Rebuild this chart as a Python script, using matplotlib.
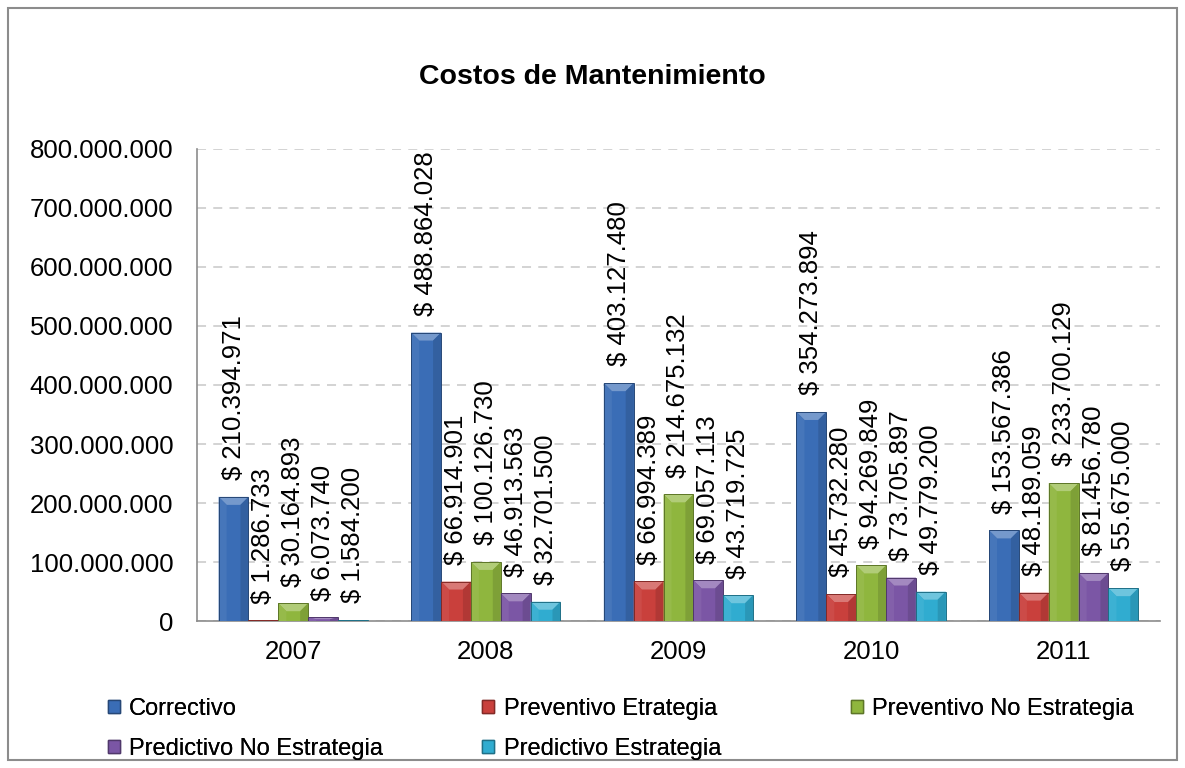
import matplotlib
matplotlib.use("Agg")
import matplotlib.pyplot as plt
import numpy as np
from matplotlib.patches import Polygon, Rectangle
from matplotlib.ticker import FuncFormatter
import matplotlib.colors as mcolors

plt.rcParams['font.family'] = ['Liberation Sans', 'DejaVu Sans']

years = ['2007', '2008', '2009', '2010', '2011']
series = ['Correctivo', 'Preventivo Etrategia', 'Preventivo No Estrategia',
          'Predictivo No Estrategia', 'Predictivo Estrategia']
correctivo = [210394971, 488864028, 403127480, 354273894, 153567386]
prev_etrategia = [1286733, 66914901, 66994389, 45732280, 48189059]
prev_no_estrategia = [30164893, 100126730, 214675132, 94269849, 233700129]
pred_no_estrategia = [6073740, 46913563, 69057113, 73705897, 81456780]
pred_estrategia = [1584200, 32701500, 43719725, 49779200, 55675000]
values = [correctivo, prev_etrategia, prev_no_estrategia, pred_no_estrategia, pred_estrategia]
colors = ['#3a6db6', '#c9403c', '#8fb63e', '#7b56a5', '#30acd0']


def fmt_num(v):
    return f"{int(v):,}".replace(",", ".")


def shade(c, f):
    r, g, b = mcolors.to_rgb(c)
    if f > 0:
        return (r + (1 - r) * f, g + (1 - g) * f, b + (1 - b) * f)
    return (r * (1 + f), g * (1 + f), b * (1 + f))


fig = plt.figure(figsize=(11.85, 7.68), dpi=100)
fig.patches.append(Rectangle((0.007, 0.01), 0.986, 0.98, transform=fig.transFigure,
                             fill=False, edgecolor='#8c8c8c', linewidth=1.5))
ax = fig.add_axes([0.1662, 0.1914, 0.8127, 0.6146])

ymax = 800000000
ax.set_xlim(-0.5, 4.5)
ax.set_ylim(0, ymax)

width = 0.155
x = np.arange(len(years))
# bevel sizes in data units (about 8 px)
axh_px = 0.6146 * 768
axw_px = 0.8127 * 1185
bev_y = 8 * ymax / axh_px
bev_x = 8 * 5 / axw_px

for i, (name, vals, col) in enumerate(zip(series, values, colors)):
    xs = x + (i - 2) * width
    ax.bar(xs, vals, width=width, color=col, edgecolor='none', label=name, zorder=3)
    for xc, v in zip(xs, vals):
        x0, x1 = xc - width / 2, xc + width / 2
        by = min(bev_y, v / 2)
        bx = min(bev_x, width / 2)
        top = [(x0, v), (x1, v), (x1 - bx, v - by), (x0 + bx, v - by)]
        left = [(x0, 0), (x0, v), (x0 + bx, v - by), (x0 + bx, 0)]
        right = [(x1, 0), (x1, v), (x1 - bx, v - by), (x1 - bx, 0)]
        ax.add_patch(Polygon(top, closed=True, facecolor=shade(col, 0.3), edgecolor='none', zorder=4))
        ax.add_patch(Polygon(left, closed=True, facecolor=shade(col, 0.06), edgecolor='none', zorder=4))
        ax.add_patch(Polygon(right, closed=True, facecolor=shade(col, -0.12), edgecolor='none', zorder=4))
        ax.add_patch(Rectangle((x0, 0), width, v, fill=False, edgecolor=shade(col, -0.35),
                               linewidth=0.7, zorder=5))
        ax.annotate(f"$ {fmt_num(v)}", xy=(xc, v), xytext=(0, 12), textcoords='offset points',
                    rotation=90, ha='center', va='bottom', fontsize=18.5, color='black', zorder=6)

ax.set_yticks(np.arange(0, ymax + 1, 100000000))
ax.yaxis.set_major_formatter(FuncFormatter(lambda v, p: fmt_num(v)))
ax.set_xticks(x)
ax.set_xticklabels(years)
ax.tick_params(axis='both', labelsize=18.5, length=0)
ax.tick_params(axis='x', pad=14)
ax.tick_params(axis='y', pad=17)
ax.grid(axis='y', linestyle=(0, (5, 4)), color='#d0d0d0', linewidth=1.3, zorder=0)
for s in ['top', 'right']:
    ax.spines[s].set_visible(False)
ax.spines['left'].set_color('#8c8c8c')
ax.spines['bottom'].set_color('#8c8c8c')
ax.spines['left'].set_linewidth(1.2)
ax.spines['bottom'].set_linewidth(1.2)

fig.text(0.5, 0.9, 'Costos de Mantenimiento', ha='center', va='center',
         fontsize=20.5, fontweight='bold')

# legend: three columns laid out like the reference (row-major order)
handles = [Rectangle((0, 0), 1, 1, facecolor=c, edgecolor=shade(c, -0.35)) for c in colors]
col_x = [0.091, 0.407, 0.718]
for c in range(3):
    idx = [k for k in range(len(series)) if k % 3 == c]
    leg = fig.legend([handles[k] for k in idx], [series[k] for k in idx], loc='upper left',
                     bbox_to_anchor=(col_x[c], 0.091), ncol=1, frameon=False, fontsize=17,
                     handlelength=0.5, handleheight=0.5, handletextpad=0.4,
                     labelspacing=0.75, borderaxespad=0, borderpad=0)
    fig.add_artist(leg)

fig.savefig('out.png', dpi=100)
